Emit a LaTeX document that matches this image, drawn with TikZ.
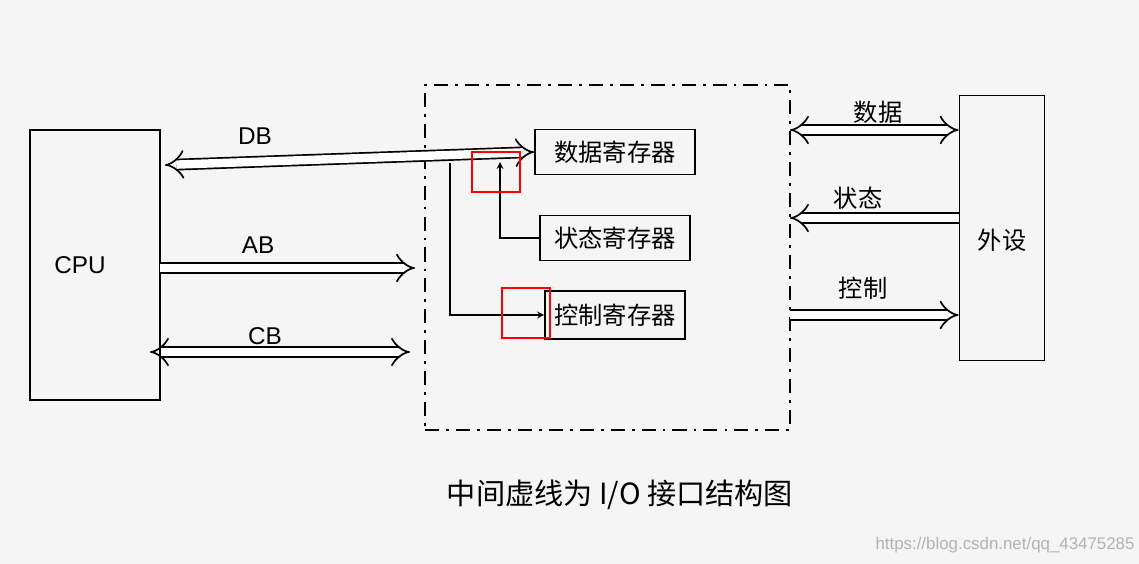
\documentclass[tikz,border=0pt]{standalone}
\usepackage{fontspec}
\newfontfamily\cjk{Noto Sans CJK SC}
\setmainfont{Liberation Sans}
\usetikzlibrary{arrows.meta}
\begin{document}
\begin{tikzpicture}[x=0.025cm,y=-0.025cm,
  box/.style={draw,very thick,inner sep=0pt},
  bus/.style={very thick,double,double distance=6pt},
  lbl/.style={font=\LARGE},
  clbl/.style={font=\cjk\LARGE}]
\path[fill=gray!8] (0,0) rectangle (1139,564);
\useasboundingbox (0,0) rectangle (1139,564);
\node[box,minimum width=130*0.025cm,minimum height=270*0.025cm] (cpu) at (95,265) {};
\node[lbl] (cpul) at (80,265) {CPU};
\node[draw,very thick,dash pattern=on 10pt off 5pt on 2pt off 5pt,minimum width=365*0.025cm,minimum height=345*0.025cm] (io) at (607.5,257.5) {};
\node[box,minimum width=160*0.025cm,minimum height=45*0.025cm,clbl] (dr) at (615,152) {数据寄存器};
\node[box,minimum width=150*0.025cm,minimum height=45*0.025cm,clbl] (sr) at (615,238) {状态寄存器};
\node[box,minimum width=140*0.025cm,minimum height=48*0.025cm,clbl] (cr) at (615,315) {控制寄存器};
\node[box,minimum width=85*0.025cm,minimum height=265*0.025cm] (dev) at (1002,228) {};
\node[clbl] (devl) at (1002,240) {外设};
\coordinate (dbL) at (165,165);
\coordinate (abL) at (160,268);
\coordinate (abR) at (415,268);
\coordinate (cbL) at (150,352);
\coordinate (cbR) at (410,352);
\draw[bus,{Implies}-{Implies}] (dbL) -- (dr.west);
\node[lbl] (db) at (255,136) {DB};
\draw[bus,-{Implies}] (abL) -- (abR);
\node[lbl] (ab) at (258,245) {AB};
\draw[bus,{Implies}-{Implies}] (cbL) -- (cbR);
\node[lbl] (cb) at (265,336) {CB};
\coordinate (j1) at (450,163);
\draw[very thick,->,>=stealth] (j1) |- (cr.west);
\coordinate (up) at (500,162);
\draw[very thick,->,>=stealth] (sr.west) -| (up);
\coordinate (r1) at (790,130);
\coordinate (r2) at (790,218);
\coordinate (r3) at (790,315);
\draw[bus,{Implies}-{Implies}] (r1) -- (dev.west|-r1);
\node[clbl] (l1) at (878,112) {数据};
\draw[bus,-{Implies}] (dev.west|-r2) -- (r2);
\node[clbl] (l2) at (858,198) {状态};
\draw[bus,-{Implies}] (r3) -- (dev.west|-r3);
\node[clbl] (l3) at (863,288) {控制};
\node[draw=red,thick,minimum width=48*0.025cm,minimum height=40*0.025cm] (rb1) at (496,172) {};
\node[draw=red,thick,minimum width=48*0.025cm,minimum height=50*0.025cm] (rb2) at (526,313) {};
\node[font=\cjk\huge] (cap) at (620,495) {中间虚线为 I/O 接口结构图};
\node[text=gray!60,font=\large] (wm) at (1005,545) {https://blog.csdn.net/qq\_43475285};
\end{tikzpicture}
\end{document}
